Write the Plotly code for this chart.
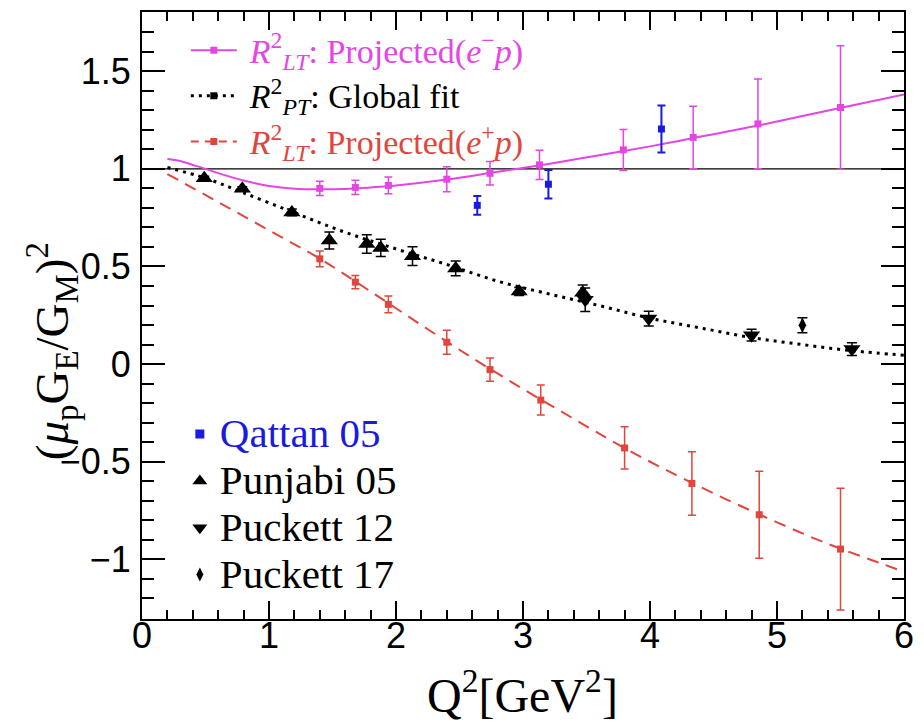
import plotly.graph_objects as go

# ---------------- data ----------------
# Projected R^2_LT (e- p): points and curve
M_X = [1.40, 1.68, 1.94, 2.40, 2.74, 3.13, 3.79, 4.34, 4.85, 5.50]
M_Y = [0.900, 0.905, 0.915, 0.947, 0.977, 1.020, 1.097, 1.161, 1.230, 1.314]
M_ERR = [0.037, 0.037, 0.043, 0.064, 0.060, 0.075, 0.105, 0.160, 0.230, 0.316]
M_CURVE_X = [0.2, 0.3, 0.4, 0.5, 0.6, 0.8, 1.0, 1.2, 1.4, 1.6, 1.8, 2.0, 2.4, 2.8,
             3.2, 3.6, 4.0, 4.4, 4.8, 5.2, 5.6, 6.0]
M_CURVE_Y = [1.050, 1.040, 1.020, 1.000, 0.978, 0.940, 0.912, 0.898, 0.895, 0.897,
             0.905, 0.915, 0.945, 0.985, 1.025, 1.070, 1.115, 1.165, 1.215, 1.270,
             1.325, 1.381]

# Projected R^2_LT (e+ p): points and curve
R_X = [1.40, 1.68, 1.94, 2.40, 2.74, 3.14, 3.80, 4.33, 4.86, 5.50]
R_Y = [0.539, 0.420, 0.306, 0.112, -0.028, -0.184, -0.429, -0.611, -0.771, -0.947]
R_ERR = [0.040, 0.034, 0.043, 0.061, 0.060, 0.077, 0.108, 0.163, 0.223, 0.312]
R_CURVE_X = [0.2, 0.6, 1.0, 1.4, 1.8, 2.2, 2.6, 3.0, 3.4, 3.8, 4.2, 4.6, 5.0, 5.4,
             5.8, 6.0]
R_CURVE_Y = [0.973, 0.830, 0.685, 0.540, 0.372, 0.200, 0.032, -0.127, -0.280,
             -0.430, -0.566, -0.692, -0.810, -0.920, -1.016, -1.063]

# R^2_PT global fit curve
G_CURVE_X = [0.2, 0.5, 0.8, 1.2, 1.6, 2.0, 2.4, 2.8, 3.2, 3.6, 4.0, 4.4, 4.8, 5.2,
             5.6, 6.0]
G_CURVE_Y = [1.007, 0.952, 0.877, 0.775, 0.675, 0.590, 0.510, 0.425, 0.360, 0.300,
             0.235, 0.185, 0.136, 0.100, 0.068, 0.046]

# Qattan 05
Q_X = [2.64, 3.20, 4.09]
Q_Y = [0.813, 0.921, 1.204]
Q_ERR = [0.048, 0.073, 0.120]

# Punjabi 05
P_X = [0.49, 0.79, 1.18, 1.475, 1.77, 1.88, 2.13, 2.47, 2.97, 3.47]
P_Y = [0.952, 0.898, 0.777, 0.633, 0.615, 0.595, 0.553, 0.490, 0.372, 0.365]
P_ERR = [0.010, 0.010, 0.017, 0.044, 0.047, 0.044, 0.048, 0.038, 0.020, 0.040]

# Puckett 12
K_X = [3.49, 3.99, 4.80, 5.59]
K_Y = [0.330, 0.233, 0.148, 0.077]
K_ERR = [0.060, 0.038, 0.030, 0.033]

# Puckett 17
D_X = [5.20]
D_Y = [0.199]
D_ERR = [0.038]

UNITY = 1.0
X_TICKS = [0, 1, 2, 3, 4, 5, 6]
X_TICK_LABELS = ["0", "1", "2", "3", "4", "5", "6"]
Y_TICKS = [-1, -0.5, 0, 0.5, 1, 1.5]
Y_TICK_LABELS = ["\u22121", "\u22120.5", "0", "0.5", "1", "1.5"]

# ---------------- styles ----------------
MAG = "#e445e4"
RED = "#e0463c"
BLUE = "#1a1ae0"
BLK = "#000000"
SERIF = "Liberation Serif"
SANS = "Liberation Sans"
NB = "\u00a0"

fig = go.Figure()

def err(vals, color, w=4, th=1.5):
    return dict(type="data", array=vals, visible=True, color=color,
                thickness=th, width=w)

# curves
fig.add_trace(go.Scatter(x=M_CURVE_X, y=M_CURVE_Y, mode="lines",
                         line=dict(color=MAG, width=2, shape="spline"),
                         showlegend=False, hoverinfo="skip"))
fig.add_trace(go.Scatter(x=G_CURVE_X, y=G_CURVE_Y, mode="lines",
                         line=dict(color=BLK, width=3, dash="3px,5px", shape="spline"),
                         showlegend=False, hoverinfo="skip"))
fig.add_trace(go.Scatter(x=R_CURVE_X, y=R_CURVE_Y, mode="lines",
                         line=dict(color=RED, width=2, dash="12px,8px", shape="spline"),
                         showlegend=False, hoverinfo="skip"))

# points
fig.add_trace(go.Scatter(x=M_X, y=M_Y, mode="markers",
                         marker=dict(color=MAG, size=7, symbol="square"),
                         error_y=err(M_ERR, MAG), showlegend=False))
fig.add_trace(go.Scatter(x=R_X, y=R_Y, mode="markers",
                         marker=dict(color=RED, size=7, symbol="square"),
                         error_y=err(R_ERR, RED), showlegend=False))
fig.add_trace(go.Scatter(x=Q_X, y=Q_Y, mode="markers",
                         marker=dict(color=BLUE, size=7, symbol="square"),
                         error_y=err(Q_ERR, BLUE, th=2), showlegend=False))
fig.add_trace(go.Scatter(x=P_X, y=P_Y, mode="markers",
                         marker=dict(color=BLK, size=15, symbol="triangle-up"),
                         error_y=err(P_ERR, BLK, w=5, th=1.5), showlegend=False))
fig.add_trace(go.Scatter(x=K_X, y=K_Y, mode="markers",
                         marker=dict(color=BLK, size=15, symbol="triangle-down"),
                         error_y=err(K_ERR, BLK, w=5, th=1.5), showlegend=False))
fig.add_trace(go.Scatter(x=D_X, y=D_Y, mode="markers",
                         marker=dict(color=BLK, size=11, symbol="diamond-tall"),
                         error_y=err(D_ERR, BLK, w=5, th=1.5), showlegend=False))

# legend-only entries (top legend)
def span(c, t, size):
    return '<span style="color:%s;font-size:%dpx">%s</span>' % (c, size, t)

TOP_TXT = 34
fig.add_trace(go.Scatter(x=[None], y=[None], mode="lines+markers",
                         line=dict(color=MAG, width=2),
                         marker=dict(color=MAG, size=7, symbol="square"),
                         name=NB + span(MAG, "<i>R</i><sup>2</sup><sub><i>LT</i></sub>: Projected(<i>e</i><sup>\u2212</sup><i>p</i>)", TOP_TXT),
                         legend="legend", legendgroup="a"))
fig.add_trace(go.Scatter(x=[None], y=[None], mode="lines+markers",
                         line=dict(color=BLK, width=3, dash="3px,5px"),
                         marker=dict(color=BLK, size=7, symbol="square"),
                         name=NB + span(BLK, "<i>R</i><sup>2</sup><sub><i>PT</i></sub>: Global fit", TOP_TXT),
                         legend="legend", legendgroup="b"))
fig.add_trace(go.Scatter(x=[None], y=[None], mode="lines+markers",
                         line=dict(color=RED, width=2, dash="8px,6px"),
                         marker=dict(color=RED, size=7, symbol="square"),
                         name=NB + span(RED, "<i>R</i><sup>2</sup><sub><i>LT</i></sub>: Projected(<i>e</i><sup>+</sup><i>p</i>)", TOP_TXT),
                         legend="legend", legendgroup="c"))

# legend-only entries (bottom legend)
BOT_TXT = 41
fig.add_trace(go.Scatter(x=[None], y=[None], mode="markers",
                         marker=dict(color=BLUE, size=9, symbol="square"),
                         name=span(BLUE, "Qattan 05", BOT_TXT), legend="legend2", legendgroup="d"))
fig.add_trace(go.Scatter(x=[None], y=[None], mode="markers",
                         marker=dict(color=BLK, size=13, symbol="triangle-up"),
                         name=span(BLK, "Punjabi 05", BOT_TXT), legend="legend2", legendgroup="e"))
fig.add_trace(go.Scatter(x=[None], y=[None], mode="markers",
                         marker=dict(color=BLK, size=13, symbol="triangle-down"),
                         name=span(BLK, "Puckett 12", BOT_TXT), legend="legend2", legendgroup="f"))
fig.add_trace(go.Scatter(x=[None], y=[None], mode="markers",
                         marker=dict(color=BLK, size=10, symbol="diamond-tall"),
                         name=span(BLK, "Puckett 17", BOT_TXT), legend="legend2", legendgroup="g"))

# unity reference line
fig.add_shape(type="line", xref="paper", x0=0, x1=1, yref="y", y0=UNITY, y1=UNITY,
              line=dict(color=BLK, width=1.2), layer="below")

L, R, T, B = 142, 17, 10, 102
W, H = 924, 721
PW, PH = W - L - R, H - T - B

def px(xp):
    return (xp - L) / PW

def py(yp):
    return (H - B - yp) / PH

fig.update_layout(
    width=W, height=H,
    margin=dict(l=L, r=R, t=T, b=B, pad=0),
    paper_bgcolor="white", plot_bgcolor="white",
    font=dict(family=SERIF, size=32, color=BLK),
    showlegend=True,
    legend=dict(x=px(186), y=py(21), xanchor="left", yanchor="top",
                font=dict(family=SERIF, size=32, color=BLK),
                bgcolor="rgba(0,0,0,0)", borderwidth=0,
                traceorder="grouped", tracegroupgap=1, itemwidth=46,
                itemclick=False, itemdoubleclick=False),
    legend2=dict(x=px(180), y=py(405), xanchor="left", yanchor="top",
                 font=dict(family=SERIF, size=33.7, color=BLK),
                 bgcolor="rgba(0,0,0,0)", borderwidth=0,
                 traceorder="grouped", tracegroupgap=0, itemwidth=30,
                 itemclick=False, itemdoubleclick=False),
    xaxis=dict(range=[0, 6], tickvals=X_TICKS, ticktext=X_TICK_LABELS,
               ticks="inside", ticklen=18, tickwidth=1.5, tickcolor=BLK,
               minor=dict(dtick=0.2, ticks="inside", ticklen=9, tickwidth=1.5,
                          tickcolor=BLK, showgrid=False),
               showline=True, linecolor=BLK, linewidth=2, mirror="ticks",
               showgrid=False, zeroline=False,
               tickfont=dict(family=SANS, size=36, color=BLK),
               ticklabelstandoff=-16),
    yaxis=dict(range=[-1.305, 1.803], tickvals=Y_TICKS, ticktext=Y_TICK_LABELS,
               ticks="inside", ticklen=23, tickwidth=1.5, tickcolor=BLK,
               minor=dict(dtick=0.1, ticks="inside", ticklen=12, tickwidth=1.5,
                          tickcolor=BLK, showgrid=False),
               showline=True, linecolor=BLK, linewidth=2, mirror="ticks",
               showgrid=False, zeroline=False,
               tickfont=dict(family=SANS, size=36, color=BLK),
               ticklabelstandoff=2),
    annotations=[
        dict(text="Q<sup>2</sup>[GeV<sup>2</sup>]", xref="paper", yref="paper",
             x=px(524), y=py(692), xanchor="center", yanchor="middle",
             showarrow=False, font=dict(family=SERIF, size=48, color=BLK)),
        dict(text="(<i>\u03bc</i><sub>p</sub>G<sub>E</sub>/G<sub>M</sub>)<sup>2</sup>",
             xref="paper", yref="paper", x=px(52), y=py(350),
             xanchor="center", yanchor="middle", textangle=-90,
             showarrow=False, font=dict(family=SERIF, size=47, color=BLK)),
    ],
)

fig.write_html("out.html")
